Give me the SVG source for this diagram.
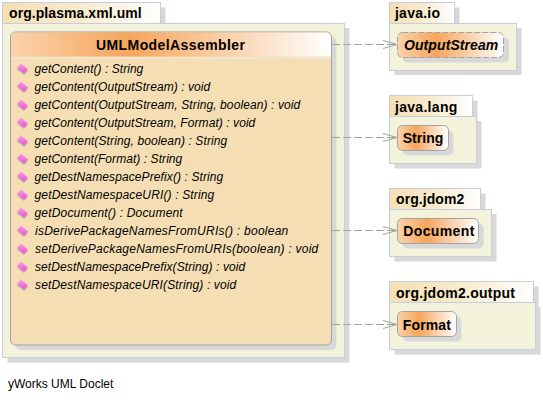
<svg xmlns="http://www.w3.org/2000/svg" width="543" height="400" viewBox="0 0 543 400">
<style>
text{font-family:"Liberation Sans",Arial,sans-serif;fill:#000}
.shadow{fill:#d8d8d8}
.pkg{fill:#f3f3dc;stroke:#c6cde0;stroke-width:1}
.tab{fill:url(#tabGrad);stroke:#c6cde0;stroke-width:1}
.pkgname{font-size:14px;font-weight:bold}
.box{stroke:#a3a3a3;stroke-width:1}
.cname{font-size:14px;font-weight:bold}
.m{font-size:12px;font-style:italic}
.conn{fill:none;stroke:#a3a3a3;stroke-width:1}
.dash{stroke-dasharray:8 3}
</style>
<defs>
<linearGradient id="tabGrad" x1="0" x2="1" y1="0" y2="0"><stop offset="0" stop-color="#f5dfb4"/><stop offset=".5" stop-color="#f8eacd"/><stop offset="1" stop-color="#ffffff"/></linearGradient>
<linearGradient id="nodeGrad" x1="0" x2="1" y1="0" y2="0"><stop offset="0" stop-color="#fbd3ac"/><stop offset=".36" stop-color="#f6a55c"/><stop offset="1" stop-color="#ffffff"/></linearGradient>
<linearGradient id="headGrad" x1="0" x2="1" y1="0" y2="0"><stop offset="0" stop-color="#fbd3ac"/><stop offset=".37" stop-color="#f6a55c"/><stop offset="1" stop-color="#ffffff"/></linearGradient>
<linearGradient id="gem" x1="0" x2="0" y1="0" y2="1"><stop offset="0" stop-color="#f8a0ec"/><stop offset="1" stop-color="#e84fd0"/></linearGradient>
<g id="method"><path d="M-5 0.500-1-4 6 2 2 6Z" fill="#b9a9a8" opacity=".75" transform="translate(0,1.200)"/><path d="M-5 0-1-4.500 6 1.500 2 5.500Z" fill="url(#gem)"/></g>
</defs>

<g id="pkg-plasma">
<path class="shadow" d="M160.500 7.500H165.500V28H349.500V362.500H7.500V357.500H160.500Z"/>
<rect class="tab" x="2.500" y="2.500" width="158" height="21"/>
<rect class="pkg" x="2.500" y="23.500" width="342" height="334"/>
<text class="pkgname" x="9" y="18" textLength="132.700">org.plasma.xml.uml</text>
</g>

<g id="class-UMLModelAssembler">
<rect class="shadow" x="15.500" y="37" width="321" height="313" rx="5"/>
<rect x="10.500" y="32" width="321" height="313" rx="5" fill="#f5deb3" class="box"/>
<path d="M11 56.500V37a4.500 4.500 0 0 1 4.500-4.500H326.500a4.500 4.500 0 0 1 4.500 4.500V56.500Z" fill="url(#headGrad)"/>
<rect x="11" y="57" width="320" height="2" fill="#efe6d0"/>
<text class="cname" x="96" y="50" textLength="149">UMLModelAssembler</text>
<use href="#method" x="22" y="68"/><text class="m" x="34.500" y="73" textLength="108.800">getContent() : String</text>
<use href="#method" x="22" y="86"/><text class="m" x="34.500" y="91" textLength="175.800">getContent(OutputStream) : void</text>
<use href="#method" x="22" y="104"/><text class="m" x="34.500" y="109" textLength="265.800">getContent(OutputStream, String, boolean) : void</text>
<use href="#method" x="22" y="122"/><text class="m" x="34.500" y="127" textLength="220.800">getContent(OutputStream, Format) : void</text>
<use href="#method" x="22" y="140"/><text class="m" x="34.500" y="145" textLength="192.800">getContent(String, boolean) : String</text>
<use href="#method" x="22" y="158"/><text class="m" x="34.500" y="163" textLength="147.800">getContent(Format) : String</text>
<use href="#method" x="22" y="176"/><text class="m" x="34.500" y="181" textLength="188.800">getDestNamespacePrefix() : String</text>
<use href="#method" x="22" y="194"/><text class="m" x="34.500" y="199" textLength="179.800">getDestNamespaceURI() : String</text>
<use href="#method" x="22" y="212"/><text class="m" x="34.500" y="217" textLength="148.200">getDocument() : Document</text>
<use href="#method" x="22" y="230"/><text class="m" x="35" y="235" textLength="253.300">isDerivePackageNamesFromURIs() : boolean</text>
<use href="#method" x="22" y="248"/><text class="m" x="35" y="253" textLength="283.300">setDerivePackageNamesFromURIs(boolean) : void</text>
<use href="#method" x="22" y="266"/><text class="m" x="35" y="271" textLength="210.300">setDestNamespacePrefix(String) : void</text>
<use href="#method" x="22" y="284"/><text class="m" x="35" y="289" textLength="201.300">setDestNamespaceURI(String) : void</text>
</g>

<g id="pkg-java-io">
<path class="shadow" d="M454.500 7.500H459.500V28H521.500V75H394.500V70H454.500Z"/>
<rect class="tab" x="389.500" y="2.500" width="65" height="21"/>
<rect class="pkg" x="389.500" y="23.500" width="127" height="47"/>
<text class="pkgname" x="395" y="18" textLength="45">java.io</text>
</g>
<g id="class-OutputStream">
<rect class="shadow" x="402.500" y="37.500" width="106.500" height="25" rx="5"/>
<rect x="397.500" y="32.500" width="106" height="25" rx="5" fill="url(#nodeGrad)" class="box" stroke-dasharray="6 2"/>
<text class="cname" x="404" y="49.500" font-style="italic" textLength="94.300">OutputStream</text>
</g>

<g id="pkg-java-lang">
<path class="shadow" d="M472.500 100.500H477.500V121H481.500V168.500H394.500V163.500H472.500Z"/>
<rect class="tab" x="389.500" y="95.500" width="83" height="21"/>
<rect class="pkg" x="389.500" y="116.500" width="87" height="47"/>
<text class="pkgname" x="395" y="111.500" textLength="62.300">java.lang</text>
</g>
<g id="class-String">
<rect class="shadow" x="402.500" y="130.500" width="51" height="25" rx="5"/>
<rect x="397.500" y="125.500" width="51" height="25" rx="5" fill="url(#nodeGrad)" class="box"/>
<text class="cname" x="402.700" y="142.500" textLength="40.700">String</text>
</g>

<g id="pkg-org-jdom2">
<path class="shadow" d="M480.500 193.500H485.500V214H496.500V261.500H394.500V256.500H480.500Z"/>
<rect class="tab" x="389.500" y="188.500" width="91" height="21"/>
<rect class="pkg" x="389.500" y="209.500" width="102" height="47"/>
<text class="pkgname" x="396" y="204" textLength="68.300">org.jdom2</text>
</g>
<g id="class-Document">
<rect class="shadow" x="402.500" y="223.500" width="81" height="25" rx="5"/>
<rect x="397.500" y="218.500" width="81" height="25" rx="5" fill="url(#nodeGrad)" class="box"/>
<text class="cname" x="403.300" y="235.500" textLength="71">Document</text>
</g>

<g id="pkg-org-jdom2-output">
<path class="shadow" d="M533.500 286.500H538.500V307H540.500V354.500H394.500V349.500H533.500Z"/>
<rect class="tab" x="389.500" y="281.500" width="144" height="21"/>
<rect class="pkg" x="389.500" y="302.500" width="146" height="47"/>
<text class="pkgname" x="396" y="297.500" textLength="119">org.jdom2.output</text>
</g>
<g id="class-Format">
<rect class="shadow" x="402.500" y="316.500" width="59" height="25" rx="5"/>
<rect x="397.500" y="311.500" width="59" height="25" rx="5" fill="url(#nodeGrad)" class="box"/>
<text class="cname" x="402.700" y="329.500" textLength="48.300">Format</text>
</g>

<g id="connectors">
<path class="conn dash" d="M332 44.500H396"/><path class="conn" d="M383 40.500 397 44.500 383 48.500"/>
<path class="conn dash" d="M332 137.500H396"/><path class="conn" d="M383 133.500 397 137.500 383 141.500"/>
<path class="conn dash" d="M332 230.500H396"/><path class="conn" d="M383 226.500 397 230.500 383 234.500"/>
<path class="conn dash" d="M332 324.500H396"/><path class="conn" d="M383 320.500 397 324.500 383 328.500"/>
</g>

<text x="8" y="387.500" font-size="12">yWorks UML Doclet</text>
</svg>
